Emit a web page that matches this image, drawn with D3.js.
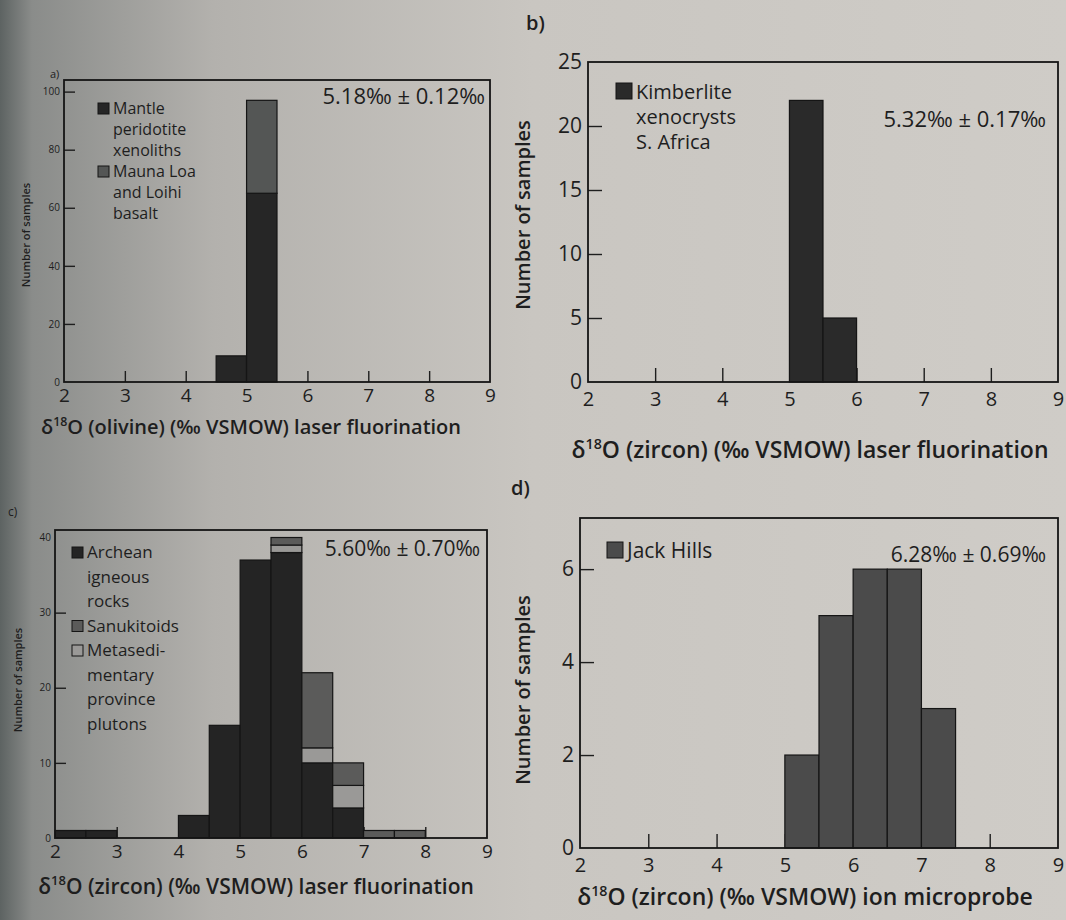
<!DOCTYPE html>
<html>
<head>
<meta charset="utf-8">
<script src="https://cdn.jsdelivr.net/npm/d3@7/dist/d3.min.js"></script>
<style>
  html, body { margin: 0; padding: 0; background: #c8c5c0; }
  svg { display: block; }
  text { font-family: "Open Sans", "Noto Sans", sans-serif; fill: #1e1e1e; }
</style>
</head>
<body>
<svg id="chart" width="1066" height="920"></svg>
<script>
// bins are 0.5 ‰ wide, each value is the left edge of the bin
var binWidth = 0.5;
var xTickValues = [2, 3, 4, 5, 6, 7, 8, 9];

// a) olivine
var aBins = [4.5, 5.0];
var aMantle = [9, 65];
var aMauna = [0, 32];

// b) kimberlite zircon
var bBins = [5.0, 5.5];
var bKimberlite = [22, 5];

// c) Archean zircon
var cBins = [2.0, 2.5, 4.0, 4.5, 5.0, 5.5, 6.0, 6.5, 7.0, 7.5];
var cArchean = [1, 1, 3, 15, 37, 38, 10, 4, 0, 0];
var cMetased = [0, 0, 0, 0, 0, 1, 2, 3, 0, 0];
var cSanuk = [0, 0, 0, 0, 0, 1, 10, 3, 1, 1];

// d) Jack Hills ion probe
var dBins = [5.0, 5.5, 6.0, 6.5, 7.0];
var dJack = [2, 5, 6, 6, 3];

var svg = d3.select("#chart");

// paper, darker toward the left edge like the photo
var defs = svg.append("defs");
var grad = defs.append("linearGradient").attr("id", "paper")
  .attr("x1", 0).attr("x2", 1).attr("y1", 0).attr("y2", 0);
grad.append("stop").attr("offset", "0%").attr("stop-color", "#5d6362");
grad.append("stop").attr("offset", "3%").attr("stop-color", "#8a8c8a");
grad.append("stop").attr("offset", "20%").attr("stop-color", "#b3b1ad");
grad.append("stop").attr("offset", "50%").attr("stop-color", "#c9c6c1");
grad.append("stop").attr("offset", "100%").attr("stop-color", "#cfccc7");
svg.append("rect").attr("width", 1066).attr("height", 920).attr("fill", "url(#paper)");

function panel(o){
  var g = svg.append("g");

  var x = d3.scaleLinear().domain([2, 9]).range([o.x0, o.x1]);
  var y = d3.scaleLinear().domain([0, o.yMax]).range([o.y1, o.y0]);

  // x axis, ticks pointing into the plot
  var xAxis = d3.axisBottom(x)
    .tickValues(xTickValues)
    .tickSize(-o.tick)
    .tickPadding(o.xPad)
    .tickFormat(d3.format("d"));
  var gx = g.append("g").attr("transform", "translate(0," + o.y1 + ")").call(xAxis);
  gx.select(".domain").remove();
  gx.selectAll(".tick line").attr("stroke", "#1e1e1e").attr("stroke-width", 1.4)
    .attr("display", function(d){ return d === 2 || d === 9 ? "none" : null; });
  gx.selectAll(".tick text").attr("font-size", o.xFont).attr("fill", "#1e1e1e")
    .attr("font-family", "Open Sans, sans-serif");

  var yAxis = d3.axisLeft(y)
    .tickValues(o.yTicks)
    .tickSize(-o.tick)
    .tickPadding(o.yPad)
    .tickFormat(d3.format("d"));
  var gy = g.append("g").attr("transform", "translate(" + o.x0 + ",0)").call(yAxis);
  gy.select(".domain").remove();
  gy.selectAll(".tick line").attr("stroke", "#1e1e1e").attr("stroke-width", 1.4)
    .attr("display", function(d){ return d === 0 || d === o.yTicks[o.yTicks.length - 1] && o.hideTop ? "none" : null; });
  gy.selectAll(".tick text").attr("font-size", o.yFont).attr("fill", "#1e1e1e")
    .attr("font-family", "Open Sans, sans-serif");

  // stacked bars
  var rows = o.bins.map(function(b, i){
    var r = {bin: b};
    o.series.forEach(function(s){ r[s.key] = s.values[i]; });
    return r;
  });
  var stack = d3.stack().keys(o.series.map(function(s){ return s.key; }))(rows);
  stack.forEach(function(layer, li){
    g.append("g").selectAll("rect")
      .data(layer.filter(function(d){ return d[1] > d[0]; }))
      .join("rect")
      .attr("x", function(d){ return x(d.data.bin); })
      .attr("width", function(d){ return x(d.data.bin + binWidth) - x(d.data.bin); })
      .attr("y", function(d){ return y(d[1]); })
      .attr("height", function(d){ return y(d[0]) - y(d[1]); })
      .attr("fill", o.series[li].color)
      .attr("stroke", "#151515")
      .attr("stroke-width", 1.2);
  });

  // frame
  g.append("rect")
    .attr("x", o.x0).attr("y", o.y0)
    .attr("width", o.x1 - o.x0).attr("height", o.y1 - o.y0)
    .attr("fill", "none").attr("stroke", "#151515").attr("stroke-width", 1.8);

  // legend (its order can differ from the stacking order)
  var lg = g.append("g").attr("transform", "translate(" + o.legend.x + "," + o.legend.y + ")");
  var ly = 0;
  var order = o.legend.order || o.series.map(function(s, i){ return i; });
  order.forEach(function(i){
    var s = o.series[i];
    lg.append("rect")
      .attr("x", 0).attr("y", ly - o.legend.box + 2)
      .attr("width", o.legend.box).attr("height", o.legend.box)
      .attr("fill", s.color).attr("stroke", "#151515").attr("stroke-width", 1);
    s.label.forEach(function(line){
      lg.append("text")
        .attr("x", o.legend.box + 4).attr("y", ly + 2)
        .attr("font-size", o.legend.font)
        .text(line);
      ly += o.legend.line;
    });
  });

  // mean ± 1 sd
  g.append("text")
    .attr("x", o.stat.x).attr("y", o.stat.y)
    .attr("text-anchor", "end")
    .attr("font-size", o.stat.font)
    .text(o.stat.text);

  // x title with superscript 18
  var xt = g.append("text")
    .attr("x", o.xTitleX).attr("y", o.xTitleY)
    .attr("text-anchor", "middle")
    .attr("font-size", o.xTitleFont)
    .attr("font-weight", 600);
  xt.append("tspan").text("δ");
  xt.append("tspan").attr("baseline-shift", "super").attr("font-size", o.xTitleFont * 0.62).text("18");
  xt.append("tspan").text(o.xTitle);

  // y title
  g.append("text")
    .attr("transform", "translate(" + o.yTitleX + "," + o.yTitleY + ") rotate(-90)")
    .attr("text-anchor", "middle")
    .attr("font-size", o.yTitleFont)
    .attr("font-weight", 600)
    .attr("fill", o.yTitleColor || "#1e1e1e")
    .text("Number of samples");

  // panel letter
  g.append("text")
    .attr("x", o.letter.x).attr("y", o.letter.y)
    .attr("font-size", o.letter.font)
    .attr("font-weight", o.letter.weight || 600)
    .attr("fill", o.letter.color || "#1e1e1e")
    .text(o.letter.text);
}

panel({
  x0: 64, x1: 490, y0: 80, y1: 382, yMax: 104, tick: 11,
  yTicks: [0, 20, 40, 60, 80, 100], hideTop: false,
  xFont: 19, xPad: 7, yFont: 10, yPad: 4,
  bins: aBins,
  series: [
    {key: "mantle", values: aMantle, color: "#262626", label: ["Mantle", "peridotite", "xenoliths"]},
    {key: "mauna", values: aMauna, color: "#545655", label: ["Mauna Loa", "and Loihi", "basalt"]}
  ],
  legend: {x: 98, y: 112, box: 11, font: 16, line: 21},
  stat: {x: 485, y: 104, font: 22, text: "5.18‰ ± 0.12‰"},
  xTitle: "O (olivine) (‰ VSMOW) laser fluorination", xTitleX: 251, xTitleY: 434, xTitleFont: 20,
  yTitleX: 30, yTitleY: 235, yTitleFont: 11, yTitleColor: "#2a2c2c",
  letter: {x: 50, y: 78, text: "a)", font: 11, weight: 400, color: "#2a2c2c"}
});

panel({
  x0: 588, x1: 1058, y0: 62, y1: 382, yMax: 25, tick: 14,
  yTicks: [0, 5, 10, 15, 20, 25], hideTop: true,
  xFont: 20, xPad: 10, yFont: 21, yPad: 6,
  bins: bBins,
  series: [
    {key: "kimberlite", values: bKimberlite, color: "#2a2a2a", label: ["Kimberlite", "xenocrysts", "S. Africa"]}
  ],
  legend: {x: 616, y: 97, box: 16, font: 20, line: 25},
  stat: {x: 1046, y: 127, font: 22, text: "5.32‰ ± 0.17‰"},
  xTitle: "O (zircon) (‰ VSMOW) laser fluorination", xTitleX: 810, xTitleY: 458, xTitleFont: 23,
  yTitleX: 530, yTitleY: 215, yTitleFont: 20,
  letter: {x: 526, y: 30, text: "b)", font: 20}
});

panel({
  x0: 55, x1: 487, y0: 530, y1: 838, yMax: 41, tick: 11,
  yTicks: [0, 10, 20, 30, 40], hideTop: true,
  xFont: 19, xPad: 7, yFont: 10, yPad: 4,
  bins: cBins,
  series: [
    {key: "archean", values: cArchean, color: "#242424", label: ["Archean", "igneous", "rocks"]},
    {key: "metased", values: cMetased, color: "#9a9997", label: ["Metasedi-", "mentary", "province", "plutons"]},
    {key: "sanuk", values: cSanuk, color: "#5b5b5a", label: ["Sanukitoids"]}
  ],
  legend: {x: 72, y: 556, box: 11, font: 17, line: 24.5, order: [0, 2, 1]},
  stat: {x: 480, y: 556, font: 21, text: "5.60‰ ± 0.70‰"},
  xTitle: "O (zircon) (‰ VSMOW) laser fluorination", xTitleX: 256, xTitleY: 894, xTitleFont: 21,
  yTitleX: 22, yTitleY: 680, yTitleFont: 11, yTitleColor: "#2a2c2c",
  letter: {x: 8, y: 516, text: "c)", font: 12, weight: 400, color: "#2a2c2c"}
});

panel({
  x0: 580, x1: 1058, y0: 518, y1: 848, yMax: 7.1, tick: 14,
  yTicks: [0, 2, 4, 6], hideTop: false,
  xFont: 20, xPad: 10, yFont: 21, yPad: 6,
  bins: dBins,
  series: [
    {key: "jack", values: dJack, color: "#4b4b4b", label: ["Jack Hills"]}
  ],
  legend: {x: 607, y: 556, box: 16, font: 21, line: 22},
  stat: {x: 1046, y: 562, font: 21, text: "6.28‰ ± 0.69‰"},
  xTitle: "O (zircon) (‰ VSMOW) ion microprobe", xTitleX: 805, xTitleY: 905, xTitleFont: 23,
  yTitleX: 530, yTitleY: 690, yTitleFont: 20,
  letter: {x: 511, y: 495, text: "d)", font: 20}
});
</script>
</body>
</html>
